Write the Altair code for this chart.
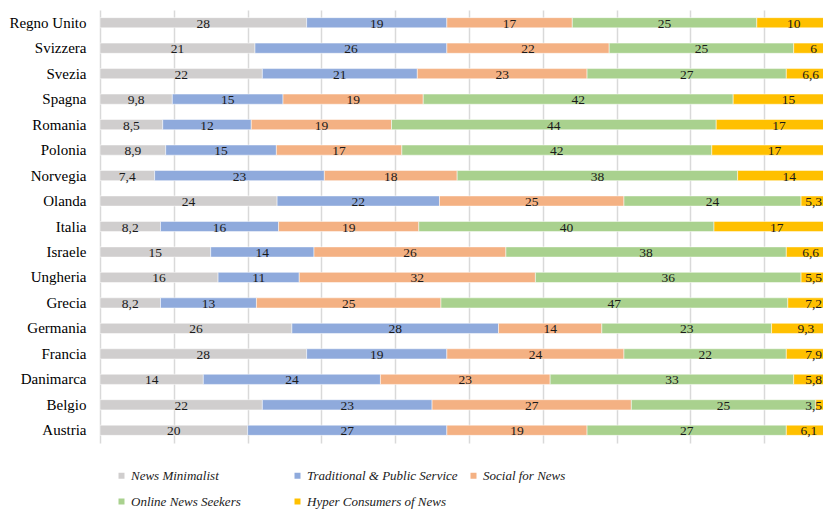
import altair as alt
import pandas as pd

countries = ["Regno Unito", "Svizzera", "Svezia", "Spagna", "Romania", "Polonia",
             "Norvegia", "Olanda", "Italia", "Israele", "Ungheria", "Grecia",
             "Germania", "Francia", "Danimarca", "Belgio", "Austria"]
categories = ["News Minimalist", "Traditional & Public Service", "Social for News",
              "Online News Seekers", "Hyper Consumers of News"]
colors = ["#d0cece", "#8faadc", "#f4b183", "#a9d18e", "#ffc000"]

news_minimalist = [28, 21, 22, 9.8, 8.5, 8.9, 7.4, 24, 8.2, 15, 16, 8.2, 26, 28, 14, 22, 20]
traditional = [19, 26, 21, 15, 12, 15, 23, 22, 16, 14, 11, 13, 28, 19, 24, 23, 27]
social = [17, 22, 23, 19, 19, 17, 18, 25, 19, 26, 32, 25, 14, 24, 23, 27, 19]
online = [25, 25, 27, 42, 44, 42, 38, 24, 40, 38, 36, 47, 23, 22, 33, 25, 27]
hyper = [10, 6, 6.6, 15, 17, 17, 14, 5.3, 17, 6.6, 5.5, 7.2, 9.3, 7.9, 5.8, 3.5, 6.1]

series = [news_minimalist, traditional, social, online, hyper]
rows = []
for ci, (cat, vals) in enumerate(zip(categories, series)):
    for country, v in zip(countries, vals):
        rows.append({"country": country, "category": cat, "order": ci, "value": v})
df = pd.DataFrame(rows)

FONT = "Liberation Serif"
X_MAX = 97.97          # visible part of the 0-100 axis (the reference is cropped at the right)
LABEL_MAX = 96.7       # keep right-most value labels inside the visible area

base = alt.Chart(df).transform_stack(
    stack="value", as_=["x0", "x1"], groupby=["country"],
    sort=[alt.SortField("order", order="ascending")]
).transform_calculate(
    mid=f"min((datum.x0 + datum.x1) / 2, {LABEL_MAX})",
    label="replace(toString(datum.value), '.', ',')"
)

xscale = alt.Scale(domain=[0, X_MAX], nice=False, zero=True)
yscale = alt.Scale(paddingInner=0.6, paddingOuter=0.3)

bars = base.mark_bar(clip=True, stroke="white", strokeWidth=0.5).encode(
    x=alt.X("x0:Q", scale=xscale,
            axis=alt.Axis(values=list(range(0, 100, 10)), labels=False, ticks=False,
                          domain=False, grid=True, gridColor="#d9d9d9", gridWidth=1.5,
                          title=None)),
    x2="x1:Q",
    y=alt.Y("country:N", sort=countries, scale=yscale,
            axis=alt.Axis(title=None, ticks=False, domain=False, labelFont=FONT,
                          labelFontSize=15, labelColor="#000000", labelPadding=14)),
    color=alt.Color("category:N", sort=categories,
                    scale=alt.Scale(domain=categories, range=colors),
                    legend=alt.Legend(title=None, orient="none", legendX=15, legendY=459,
                                      direction="horizontal",
                                      columns=3, gridAlign="all", columnPadding=9,
                                      rowPadding=12, symbolType="square", symbolSize=36,
                                      symbolStrokeWidth=0, labelOffset=3,
                                      labelFont=FONT, labelFontStyle="italic",
                                      labelFontSize=13, labelColor="#1a1a1a",
                                      labelLimit=400)),
    order=alt.Order("order:Q"),
)

texts = base.mark_text(clip=True, font=FONT, fontSize=13.5, color="#1a1a1a",
                       baseline="middle", dy=1).encode(
    x=alt.X("mid:Q", scale=xscale),
    y=alt.Y("country:N", sort=countries, scale=yscale),
    text="label:N",
)

chart = alt.layer(bars, texts).properties(
    width=723, height=433,
    autosize=alt.AutoSizeParams(type="none"),
    padding={"left": 92, "top": 2, "right": 0, "bottom": 68},
).configure_view(stroke=None)

chart.save("out.html", embed_options={"renderer": "svg", "actions": False})
